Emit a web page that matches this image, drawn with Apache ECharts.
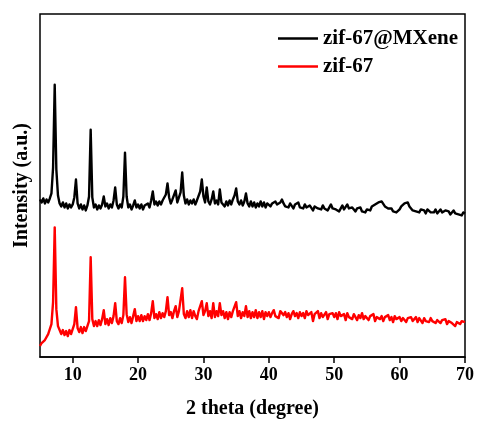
<!DOCTYPE html>
<html>
<head>
<meta charset="utf-8">
<script src="https://cdn.jsdelivr.net/npm/echarts@6/dist/echarts.min.js"></script>
<style>
  html, body { margin: 0; padding: 0; background: #fff; }
  #chart { width: 477px; height: 425px; }
</style>
</head>
<body>
<div id="chart"></div>
<script>
// Diffraction angle grid (degrees 2θ, 0.25° step)
const twoTheta = [
  5, 5.25, 5.5, 5.75, 6, 6.25, 6.5, 6.75, 7, 7.25, 7.5, 7.75, 8, 8.25, 8.5, 8.75, 9, 9.25, 9.5, 9.75,
  10, 10.25, 10.5, 10.75, 11, 11.25, 11.5, 11.75, 12, 12.25, 12.5, 12.75, 13, 13.25, 13.5, 13.75, 14, 14.25, 14.5, 14.75,
  15, 15.25, 15.5, 15.75, 16, 16.25, 16.5, 16.75, 17, 17.25, 17.5, 17.75, 18, 18.25, 18.5, 18.75, 19, 19.25, 19.5, 19.75,
  20, 20.25, 20.5, 20.75, 21, 21.25, 21.5, 21.75, 22, 22.25, 22.5, 22.75, 23, 23.25, 23.5, 23.75, 24, 24.25, 24.5, 24.75,
  25, 25.25, 25.5, 25.75, 26, 26.25, 26.5, 26.75, 27, 27.25, 27.5, 27.75, 28, 28.25, 28.5, 28.75, 29, 29.25, 29.5, 29.75,
  30, 30.25, 30.5, 30.75, 31, 31.25, 31.5, 31.75, 32, 32.25, 32.5, 32.75, 33, 33.25, 33.5, 33.75, 34, 34.25, 34.5, 34.75,
  35, 35.25, 35.5, 35.75, 36, 36.25, 36.5, 36.75, 37, 37.25, 37.5, 37.75, 38, 38.25, 38.5, 38.75, 39, 39.25, 39.5, 39.75,
  40, 40.25, 40.5, 40.75, 41, 41.25, 41.5, 41.75, 42, 42.25, 42.5, 42.75, 43, 43.25, 43.5, 43.75, 44, 44.25, 44.5, 44.75,
  45, 45.25, 45.5, 45.75, 46, 46.25, 46.5, 46.75, 47, 47.25, 47.5, 47.75, 48, 48.25, 48.5, 48.75, 49, 49.25, 49.5, 49.75,
  50, 50.25, 50.5, 50.75, 51, 51.25, 51.5, 51.75, 52, 52.25, 52.5, 52.75, 53, 53.25, 53.5, 53.75, 54, 54.25, 54.5, 54.75,
  55, 55.25, 55.5, 55.75, 56, 56.25, 56.5, 56.75, 57, 57.25, 57.5, 57.75, 58, 58.25, 58.5, 58.75, 59, 59.25, 59.5, 59.75,
  60, 60.25, 60.5, 60.75, 61, 61.25, 61.5, 61.75, 62, 62.25, 62.5, 62.75, 63, 63.25, 63.5, 63.75, 64, 64.25, 64.5, 64.75,
  65, 65.25, 65.5, 65.75, 66, 66.25, 66.5, 66.75, 67, 67.25, 67.5, 67.75, 68, 68.25, 68.5, 68.75, 69, 69.25, 69.5, 69.75, 70
];

// zif-67@MXene intensity (a.u., vertically offset above zif-67)
const zifMxene = [
  158, 155, 159, 154, 158, 155, 159, 164, 190, 273, 188, 162, 154, 151, 155, 150, 154, 149, 153, 150,
  153, 160, 178, 154, 149, 153, 148, 152, 147, 152, 161, 228, 160, 150, 153, 148, 152, 149, 153, 161,
  151, 154, 149, 153, 150, 157, 170, 153, 149, 153, 150, 161, 205, 161, 150, 153, 148, 152, 157, 150,
  153, 149, 153, 148, 152, 150, 154, 150, 157, 166, 153, 156, 152, 156, 153, 157, 155, 163, 174, 160,
  154, 158, 156, 167, 155, 160, 165, 185, 162, 154, 158, 153, 157, 154, 158, 153, 157, 159, 166, 178,
  161, 155, 170, 156, 153, 158, 166, 154, 157, 153, 168, 155, 157, 151, 156, 152, 157, 153, 158, 162,
  169, 156, 153, 157, 152, 156, 164, 154, 151, 156, 151, 155, 150, 154, 151, 156, 151, 155, 150, 154,
  155, 151, 154, 152, 156, 153, 151, 155, 158, 154, 151, 153, 150, 154, 152, 149, 153, 151, 155, 150,
  152, 149, 153, 150, 148, 152, 150, 147, 151, 153, 149, 151, 148, 152, 149, 151, 147, 150, 153, 149,
  151, 148, 150, 146, 149, 152, 148, 150, 153, 149, 147, 150, 148, 146, 149, 147, 150, 146, 148, 145,
  148, 150, 147, 151, 149, 153, 152, 155, 153, 156, 154, 151, 152, 149, 147, 149, 146, 148, 145, 147,
  148, 151, 150, 154, 152, 155, 151, 149, 147, 149, 146, 148, 145, 148, 146, 147, 144, 148, 146, 145,
  147, 145, 148, 144, 146, 148, 145, 143, 147, 145, 146, 143, 145, 147, 144, 146, 143, 145, 142, 145, 144
];

// zif-67 intensity (a.u.)
const zif67 = [
  11, 14, 13, 17, 19, 23, 25, 33, 55, 130, 48, 31, 27, 23, 27, 22, 26, 21, 27, 23,
  28, 33, 50, 29, 25, 30, 24, 30, 26, 31, 36, 100, 38, 31, 36, 31, 37, 32, 38, 47,
  33, 38, 32, 39, 34, 41, 54, 36, 33, 39, 34, 42, 80, 43, 35, 40, 34, 41, 48, 36,
  41, 36, 42, 36, 41, 37, 43, 37, 44, 56, 39, 43, 38, 45, 39, 44, 40, 46, 60, 42,
  45, 39, 46, 51, 40, 46, 48, 69, 43, 39, 46, 40, 47, 39, 46, 41, 38, 46, 47, 56,
  42, 46, 54, 41, 46, 39, 54, 40, 46, 41, 54, 42, 46, 39, 45, 38, 45, 40, 46, 48,
  55, 41, 46, 39, 45, 41, 51, 40, 46, 39, 45, 40, 47, 39, 45, 40, 46, 38, 45, 41,
  45, 40, 44, 47, 41, 43, 39, 46, 48, 42, 45, 40, 44, 38, 43, 46, 41, 44, 39, 45,
  41, 44, 39, 46, 42, 40, 45, 36, 43, 41, 46, 39, 44, 40, 42, 45, 38, 43, 41, 44,
  40, 44, 38, 45, 41, 39, 43, 37, 44, 40, 42, 38, 43, 41, 37, 42, 39, 44, 38, 41,
  42, 37, 41, 39, 43, 36, 40, 42, 38, 41, 36, 40, 38, 42, 37, 40, 35, 41, 38, 39,
  40, 36, 39, 41, 35, 39, 37, 40, 36, 38, 40, 35, 39, 37, 34, 39, 36, 38, 35, 39,
  36, 38, 34, 37, 39, 34, 37, 35, 38, 33, 36, 38, 34, 36, 31, 35, 37, 33, 36, 34, 35
];

// x-axis tick positions
const xTicks = [10, 20, 30, 40, 50, 60, 70];

const seriesNames = ['zif-67@MXene', 'zif-67'];
const seriesColors = ['#000000', '#ff0000'];

const pair = (ys) => twoTheta.map((x, i) => [x, ys[i]]);
const serif = '"Liberation Serif", "Times New Roman", serif';

const chart = echarts.init(document.getElementById('chart'), null, { renderer: 'canvas' });
chart.setOption({
  animation: false,
  backgroundColor: '#fff',
  grid: {
    left: 40, right: 11, top: 14, bottom: 68,
    show: true, borderColor: '#000', borderWidth: 1.5, backgroundColor: 'transparent'
  },
  legend: {
    orient: 'vertical',
    left: 273, top: 23,
    icon: 'rect',
    itemWidth: 40, itemHeight: 2.5, itemGap: 7,
    textStyle: { fontFamily: serif, fontWeight: 'bold', fontSize: 21, color: '#000' },
    data: seriesNames
  },
  xAxis: {
    type: 'value',
    min: 5, max: 70,
    name: '2 theta (degree)',
    nameLocation: 'middle',
    nameGap: 42,
    nameTextStyle: { fontFamily: serif, fontWeight: 'bold', fontSize: 20, color: '#000' },
    axisLine: { show: true, onZero: false, lineStyle: { color: '#000', width: 1.5 } },
    axisTick: { show: true, inside: false, length: 6, customValues: xTicks, lineStyle: { color: '#000', width: 1.5 } },
    axisLabel: { customValues: xTicks, margin: 9, fontFamily: serif, fontWeight: 'bold', fontSize: 18, color: '#000' },
    splitLine: { show: false }
  },
  yAxis: {
    type: 'value',
    min: 0, max: 344,
    name: 'Intensity (a.u.)',
    nameLocation: 'middle',
    nameGap: 8,
    nameTextStyle: { fontFamily: serif, fontWeight: 'bold', fontSize: 20, color: '#000' },
    axisLine: { show: false },
    axisTick: { show: false },
    axisLabel: { show: false },
    splitLine: { show: false }
  },
  series: seriesNames.map((name, k) => ({
    name, type: 'line', data: pair(k === 0 ? zifMxene : zif67),
    symbol: 'none', showSymbol: false,
    lineStyle: { color: seriesColors[k], width: 2.4, join: 'round' },
    itemStyle: { color: seriesColors[k] }
  }))
});
</script>
</body>
</html>
